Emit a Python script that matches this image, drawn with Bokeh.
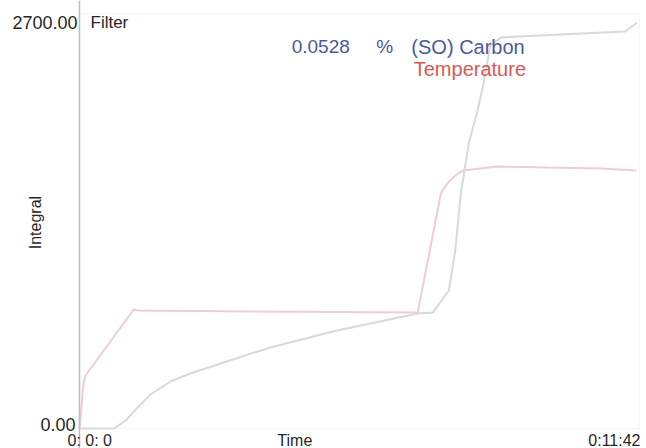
from bokeh.plotting import figure
from bokeh.models import Label, Range1d, BoxAnnotation, Span
from bokeh.embed import file_html
from bokeh.resources import INLINE

# Run time in seconds (0:11:42 = 702 s) and signal values (0 .. 2700)
temp_t = [0, 1.3, 5, 7.5, 68, 73, 214, 424, 453, 461, 471, 481, 524, 587, 653, 698]
temp_v = [0, 72, 293, 345, 774, 768, 761, 755, 1529, 1594, 1646, 1679, 1705, 1698, 1692, 1679]

integral_t = [0, 43, 58, 73, 89, 114, 139, 177, 239, 323, 424, 443, 463, 471, 478,
              488, 499, 506, 515, 528, 603, 684, 699]
integral_v = [0, 0, 52, 137, 221, 306, 358, 423, 527, 638, 748, 755, 898, 1158, 1529,
              1854, 2069, 2232, 2492, 2544, 2563, 2583, 2641]

t_max = 702
v_max = 2700
y_tick_labels = ["0.00", "2700.00"]
x_tick_labels = ["0: 0: 0", "0:11:42"]
result_value = "0.0528"
result_unit = "%"
result_name = "(SO) Carbon"

FONT = "Liberation Sans"
DARK = "#262626"
BLUE = "#4a5a9c"
RED = "#d65a55"

# The plotting area spans 560 x 415 px, placed 79 px from the left and 13 px from
# the top of the canvas; the ranges are widened so labels around it stay visible.
W, H = 646, 448
FL, FT, FW, FH = 79, 13, 560, 415
sx = t_max / FW
sy = v_max / FH
x_range = Range1d(-FL * sx, (W - FL) * sx)
y_range = Range1d(-(H - FT - FH) * sy, (FH + FT) * sy)

p = figure(width=W, height=H, output_backend="svg", toolbar_location=None,
           x_axis_location=None, y_axis_location=None,
           x_range=x_range, y_range=y_range, min_border=0)
p.outline_line_color = None
p.xgrid.grid_line_color = None
p.ygrid.grid_line_color = None
p.background_fill_color = "white"
p.border_fill_color = "white"

# chart frame and left axis line
p.add_layout(BoxAnnotation(left=0, right=t_max, bottom=0, top=v_max,
                           fill_alpha=0, line_color="#e4e4e4", line_width=1))
p.add_layout(Span(location=0, dimension="height", line_color="#bdbdbd", line_width=1.5))

# curves
p.line(integral_t, integral_v, line_color="#d8d9d9", line_width=2)
p.line(temp_t, temp_v, line_color="#e8d0d4", line_width=2)

def lab(x, y, text, size, color=DARK, align="left", baseline="middle", xo=0, yo=0, angle=0):
    p.add_layout(Label(x=x, y=y, text=text, text_font=FONT, text_font_size=f"{size}px",
                       text_color=color, text_align=align, text_baseline=baseline,
                       x_offset=xo, y_offset=yo, angle=angle))

# y tick labels
lab(0, v_max, y_tick_labels[1], 18, align="right", baseline="middle", xo=-2, yo=-9)
lab(0, 0, y_tick_labels[0], 18, align="left", baseline="middle", xo=-39, yo=4)
lab(0, v_max, "Filter", 17, baseline="middle", xo=11, yo=-9)

# x tick labels and axis titles
lab(0, 0, x_tick_labels[0], 16, align="left", baseline="middle", xo=-12, yo=-12)
lab(t_max, 0, x_tick_labels[1], 16, align="right", baseline="middle", xo=1, yo=-12)
lab(248, 0, "Time", 16, baseline="middle", yo=-12)
lab(0, 1340, "Integral", 16, align="center", baseline="middle", xo=-44, angle=1.5708)

# result legend
lab(266, 2485, result_value, 19, color=BLUE)
lab(372, 2485, result_unit, 19, color=BLUE)
lab(416, 2485, result_name, 20, color=BLUE)
lab(419, 2342, "Temperature", 20, color=RED)

open("out.html", "w").write(file_html(p, INLINE))
